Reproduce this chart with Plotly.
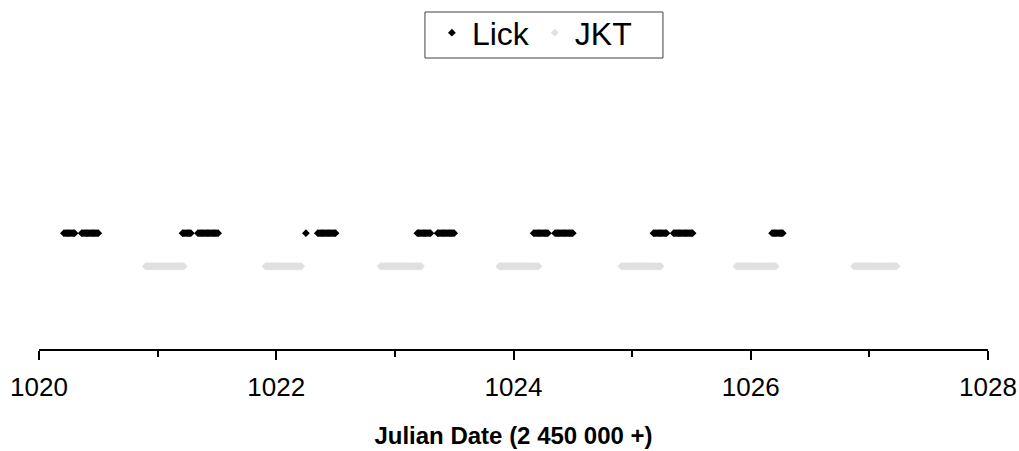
import plotly.graph_objects as go

lick_jd = [
    1020.21, 1020.22, 1020.23, 1020.24, 1020.25, 1020.26, 1020.27, 1020.28, 1020.29, 1020.30,
    1020.36, 1020.37, 1020.38, 1020.39, 1020.40, 1020.41, 1020.42, 1020.43, 1020.44, 1020.45,
    1020.46, 1020.47, 1020.48, 1020.49, 1020.50,
    1021.21, 1021.22, 1021.23, 1021.24, 1021.25, 1021.26, 1021.27, 1021.28,
    1021.34, 1021.35, 1021.36, 1021.37, 1021.38, 1021.39, 1021.40, 1021.41, 1021.42, 1021.43,
    1021.44, 1021.45, 1021.46, 1021.47, 1021.48, 1021.49, 1021.50, 1021.51,
    1022.25,
    1022.35, 1022.36, 1022.37, 1022.38, 1022.39, 1022.40, 1022.41, 1022.42, 1022.43, 1022.44,
    1022.45, 1022.46, 1022.47, 1022.48, 1022.49, 1022.50,
    1023.19, 1023.20, 1023.21, 1023.22, 1023.23, 1023.24, 1023.25, 1023.26, 1023.27, 1023.28,
    1023.29, 1023.30,
    1023.36, 1023.37, 1023.38, 1023.39, 1023.40, 1023.41, 1023.42, 1023.43, 1023.44, 1023.45,
    1023.46, 1023.47, 1023.48, 1023.49, 1023.50,
    1024.17, 1024.18, 1024.19, 1024.20, 1024.21, 1024.22, 1024.23, 1024.24, 1024.25, 1024.26,
    1024.27, 1024.28, 1024.29,
    1024.35, 1024.36, 1024.37, 1024.38, 1024.39, 1024.40, 1024.41, 1024.42, 1024.43, 1024.44,
    1024.45, 1024.46, 1024.47, 1024.48, 1024.49, 1024.50,
    1025.18, 1025.19, 1025.20, 1025.21, 1025.22, 1025.23, 1025.24, 1025.25, 1025.26, 1025.27,
    1025.28, 1025.29,
    1025.35, 1025.36, 1025.37, 1025.38, 1025.39, 1025.40, 1025.41, 1025.42, 1025.43, 1025.44,
    1025.45, 1025.46, 1025.47, 1025.48, 1025.49, 1025.50, 1025.51,
    1026.18, 1026.19, 1026.20, 1026.21, 1026.22, 1026.23, 1026.24, 1026.25, 1026.26, 1026.27,
]
jkt_jd = [
    1020.90, 1020.91, 1020.92, 1020.93, 1020.94, 1020.95, 1020.96, 1020.97, 1020.98, 1020.99,
    1021.00, 1021.01, 1021.02, 1021.03, 1021.04, 1021.05, 1021.06, 1021.07, 1021.08, 1021.09,
    1021.10, 1021.11, 1021.12, 1021.13, 1021.14, 1021.15, 1021.16, 1021.17, 1021.18, 1021.19,
    1021.20, 1021.21, 1021.22,
    1021.91, 1021.92, 1021.93, 1021.94, 1021.95, 1021.96, 1021.97, 1021.98, 1021.99, 1022.00,
    1022.01, 1022.02, 1022.03, 1022.04, 1022.05, 1022.06, 1022.07, 1022.08, 1022.09, 1022.10,
    1022.11, 1022.12, 1022.13, 1022.14, 1022.15, 1022.16, 1022.17, 1022.18, 1022.19, 1022.20,
    1022.21,
    1022.88, 1022.89, 1022.90, 1022.91, 1022.92, 1022.93, 1022.94, 1022.95, 1022.96, 1022.97,
    1022.98, 1022.99, 1023.00, 1023.01, 1023.02, 1023.03, 1023.04, 1023.05, 1023.06, 1023.07,
    1023.08, 1023.09, 1023.10, 1023.11, 1023.12, 1023.13, 1023.14, 1023.15, 1023.16, 1023.17,
    1023.18, 1023.19, 1023.20, 1023.21, 1023.22,
    1023.88, 1023.89, 1023.90, 1023.91, 1023.92, 1023.93, 1023.94, 1023.95, 1023.96, 1023.97,
    1023.98, 1023.99, 1024.00, 1024.01, 1024.02, 1024.03, 1024.04, 1024.05, 1024.06, 1024.07,
    1024.08, 1024.09, 1024.10, 1024.11, 1024.12, 1024.13, 1024.14, 1024.15, 1024.16, 1024.17,
    1024.18, 1024.19, 1024.20, 1024.21,
    1024.91, 1024.92, 1024.93, 1024.94, 1024.95, 1024.96, 1024.97, 1024.98, 1024.99, 1025.00,
    1025.01, 1025.02, 1025.03, 1025.04, 1025.05, 1025.06, 1025.07, 1025.08, 1025.09, 1025.10,
    1025.11, 1025.12, 1025.13, 1025.14, 1025.15, 1025.16, 1025.17, 1025.18, 1025.19, 1025.20,
    1025.21, 1025.22, 1025.23, 1025.24,
    1025.88, 1025.89, 1025.90, 1025.91, 1025.92, 1025.93, 1025.94, 1025.95, 1025.96, 1025.97,
    1025.98, 1025.99, 1026.00, 1026.01, 1026.02, 1026.03, 1026.04, 1026.05, 1026.06, 1026.07,
    1026.08, 1026.09, 1026.10, 1026.11, 1026.12, 1026.13, 1026.14, 1026.15, 1026.16, 1026.17,
    1026.18, 1026.19, 1026.20, 1026.21,
    1026.87, 1026.88, 1026.89, 1026.90, 1026.91, 1026.92, 1026.93, 1026.94, 1026.95, 1026.96,
    1026.97, 1026.98, 1026.99, 1027.00, 1027.01, 1027.02, 1027.03, 1027.04, 1027.05, 1027.06,
    1027.07, 1027.08, 1027.09, 1027.10, 1027.11, 1027.12, 1027.13, 1027.14, 1027.15, 1027.16,
    1027.17, 1027.18, 1027.19, 1027.20, 1027.21, 1027.22, 1027.23,
]
lick_level = 1.4
jkt_level = 1.0
x_tick_vals = [1020, 1022, 1024, 1026, 1028]
x_tick_text = ["1020", "1022", "1024", "1026", "1028"]

fig = go.Figure()
fig.add_trace(go.Scatter(
    x=lick_jd, y=[lick_level] * len(lick_jd), mode="markers", name="Lick",
    marker=dict(symbol="diamond", size=6, color="#000000", line=dict(width=0)),
))
fig.add_trace(go.Scatter(
    x=jkt_jd, y=[jkt_level] * len(jkt_jd), mode="markers", name="JKT",
    marker=dict(symbol="diamond", size=6, color="#e0e0e0", line=dict(width=0)),
))

fig.update_layout(
    width=1019, height=451,
    margin=dict(l=39, r=31, t=76, b=102, autoexpand=False),
    paper_bgcolor="white", plot_bgcolor="white",
    font=dict(family="Liberation Sans, Arial, sans-serif", color="black"),
    showlegend=True,
    legend=dict(
        orientation="h", x=0.414, xref="paper", xanchor="left",
        y=0.988, yref="container", yanchor="top",
        font=dict(size=32, color="black"), borderwidth=0,
        bgcolor="rgba(0,0,0,0)", itemwidth=30,
    ),
    shapes=[dict(
        type="rect", xref="paper", yref="paper",
        x0=0.4067, x1=0.6575, y0=1.0659, y1=1.2344,
        line=dict(color="#404040", width=1), fillcolor="rgba(0,0,0,0)", layer="below",
    )],
    xaxis=dict(
        range=[1020, 1028], tickvals=x_tick_vals, ticktext=x_tick_text,
        ticks="outside", ticklen=9, tickwidth=2, tickcolor="black",
        showline=True, linewidth=2, linecolor="black", showgrid=False, zeroline=False,
        automargin=False, ticklabelstandoff=5,
        tickfont=dict(size=26, color="black"),
        minor=dict(dtick=1, tick0=1020, ticks="outside", ticklen=6, tickwidth=2,
                   tickcolor="black", showgrid=False),
        title=dict(text="<b>Julian Date (2 450 000 +)</b>", font=dict(size=24, color="black"),
                   standoff=26),
    ),
    yaxis=dict(range=[0, 3.3], visible=False, showgrid=False, zeroline=False),
)

# the page body has a default 8px margin; remove it so the figure fills the window
fig.write_html("out.html", config={"displayModeBar": False},
               post_script="document.body.style.margin='0';")
